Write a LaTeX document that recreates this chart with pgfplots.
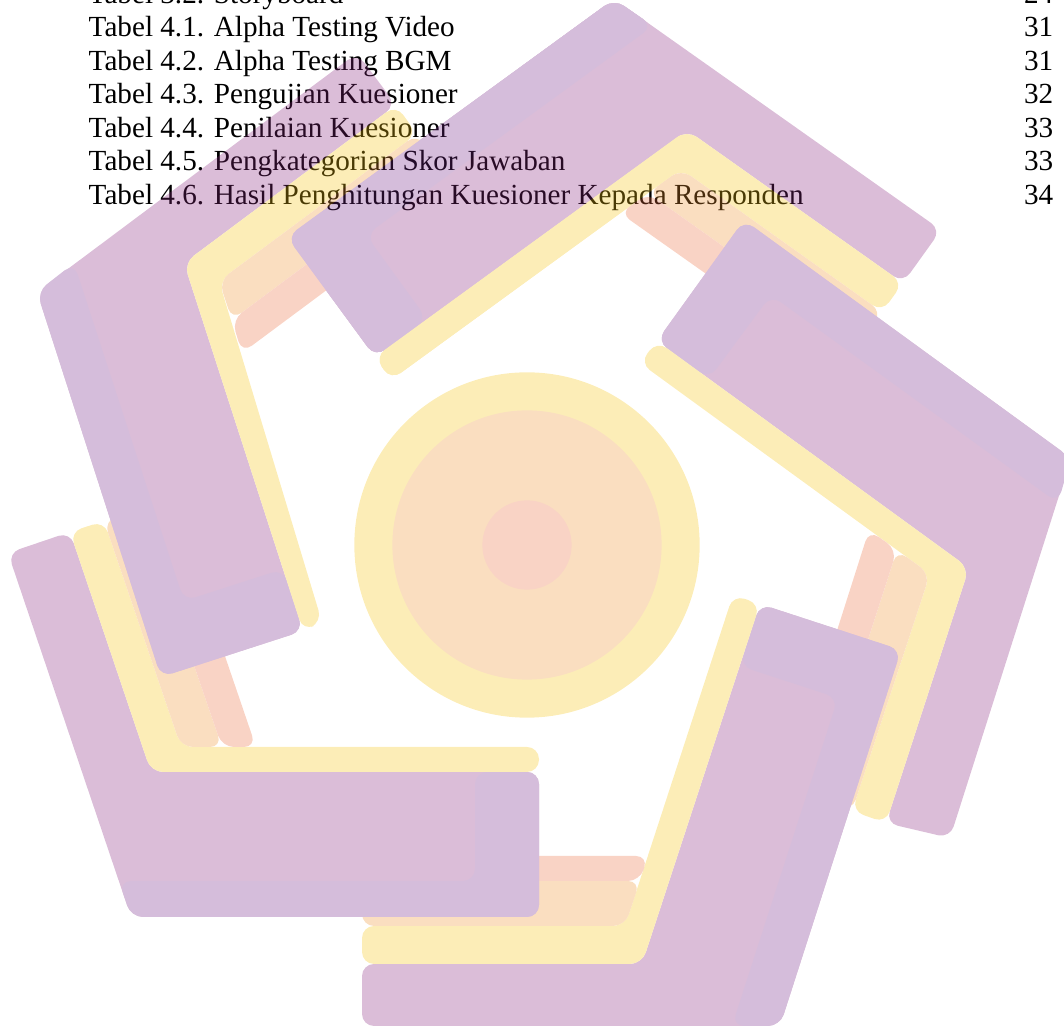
\documentclass[border=0pt]{standalone}
\usepackage{fontspec}
\setmainfont{Liberation Serif}
\usepackage{pgfplots}
\pgfplotsset{compat=1.18}
\definecolor{cpur}{RGB}{135,38,125}
\definecolor{clav}{RGB}{115,38,135}
\definecolor{cyel}{RGB}{245,195,18}
\definecolor{cpea}{RGB}{238,145,45}
\definecolor{cpin}{RGB}{235,108,62}
\pgfplotsset{
  page/.style={width=106.4mm, height=103.4mm, scale only axis,
    xmin=0, xmax=1064, ymin=0, ymax=1034, y dir=reverse, hide axis, clip=true},
  sh/.style={draw=none, fill=#1, rounded corners=1.2mm, forget plot},
  disc/.style={#1, only marks, mark=*, mark options={draw=#1, fill=#1}, forget plot},
}
\tikzset{
  tl/.style={anchor=base west, inner sep=0pt, font=\fontsize{8.3}{10}\selectfont},
  tr/.style={anchor=base east, inner sep=0pt, font=\fontsize{8.3}{10}\selectfont},
}
\begin{document}
\begin{tikzpicture}
% ---------------- text layer ----------------
\begin{axis}[page]
\addplot[draw=none, forget plot] coordinates {(0,0) (1064,1034)};
\node[tl] at (axis cs:88,4)   {Tabel 3.2. Storyboard};
\node[tl] at (axis cs:88,37)  {Tabel 4.1. Alpha Testing Video};
\node[tl] at (axis cs:88,71)  {Tabel 4.2. Alpha Testing BGM};
\node[tl] at (axis cs:88,104) {Tabel 4.3. Pengujian Kuesioner};
\node[tl] at (axis cs:88,138) {Tabel 4.4. Penilaian Kuesioner};
\node[tl] at (axis cs:88,171) {Tabel 4.5. Pengkategorian Skor Jawaban};
\node[tl] at (axis cs:88,205) {Tabel 4.6. Hasil Penghitungan Kuesioner Kepada Responden};
\node[tr] at (axis cs:1054,4)   {24};
\node[tr] at (axis cs:1054,37)  {31};
\node[tr] at (axis cs:1054,71)  {31};
\node[tr] at (axis cs:1054,104) {32};
\node[tr] at (axis cs:1054,138) {33};
\node[tr] at (axis cs:1054,171) {33};
\node[tr] at (axis cs:1054,205) {34};
\end{axis}
% ---------------- watermark layer ----------------
\begin{scope}[transparency group, opacity=0.3]
\begin{axis}[page]
% centre circle
\addplot[disc=cyel, mark size=48.93pt] coordinates {(527,545)};
\addplot[disc=cpea, mark size=38.1pt] coordinates {(527,545)};
\addplot[disc=cpin, mark size=12.5pt] coordinates {(527,545)};
% piece A (top)
\addplot[sh=cpur] coordinates {(941,230) (903,283) (687,130) (375,357) (287,237) (614,-1)} -- cycle;
\addplot[sh=clav] coordinates {(653,26) (366,235) (427,319) (375,357) (287,237) (614,-1)} -- cycle;
\addplot[sh=cyel] coordinates {(903,283) (882,312) (681,169) (391,380) (375,357) (687,130)} -- cycle;
\addplot[sh=cpea] coordinates {(882,312) (861,344) (648,193) (681,169)} -- cycle;
\addplot[sh=cpin] coordinates {(861,344) (842,370) (620,213) (648,193)} -- cycle;
% piece D (right)
\addplot[sh=cpur] coordinates {(950,838) (886,823) (969,568) (657,341) (744,220) (1071,458)} -- cycle;
\addplot[sh=clav] coordinates {(1058,503) (771,295) (709,379) (657,341) (744,220) (1071,458)} -- cycle;
\addplot[sh=cyel] coordinates {(886,823) (852,811) (930,574) (640,363) (657,341) (969,568)} -- cycle;
\addplot[sh=cpea] coordinates {(852,811) (816,801) (897,550) (930,574)} -- cycle;
\addplot[sh=cpin] coordinates {(816,801) (786,791) (869,530) (897,550)} -- cycle;
% piece C (bottom)
\addplot[sh=cpur] coordinates {(362,1026) (362,964) (642,964) (760,604) (901,650) (780,1026)} -- cycle;
\addplot[sh=clav] coordinates {(732,1026) (838,698) (740,666) (760,604) (901,650) (780,1026)} -- cycle;
\addplot[sh=cyel] coordinates {(362,964) (362,926) (625,926) (733,595) (760,604) (642,964)} -- cycle;
\addplot[sh=cpea] coordinates {(362,926) (362,881) (640,881) (625,926)} -- cycle;
\addplot[sh=cpin] coordinates {(362,881) (362,856) (648,856) (640,881)} -- cycle;
% piece B (bottom left)
\addplot[sh=cpur] coordinates {(8,553) (70,532) (151,772) (539,772) (539,917) (131,917)} -- cycle;
\addplot[sh=clav] coordinates {(119,881) (475,881) (475,772) (539,772) (539,917) (131,917)} -- cycle;
\addplot[sh=cyel] coordinates {(70,532) (104,521) (181,747) (539,747) (539,772) (151,772)} -- cycle;
\addplot[sh=cpea] coordinates {(104,521) (140,508) (222,747) (181,747)} -- cycle;
\addplot[sh=cpin] coordinates {(140,508) (171,498) (256,747) (222,747)} -- cycle;
% piece E (left)
\addplot[sh=cpur] coordinates {(357,53) (396,105) (184,263) (303,631) (161,677) (37,292)} -- cycle;
\addplot[sh=clav] coordinates {(74,263) (184,601) (283,569) (303,631) (161,677) (37,292)} -- cycle;
\addplot[sh=cyel] coordinates {(396,105) (417,134) (219,281) (322,622) (303,631) (184,263)} -- cycle;
\addplot[sh=cpea] coordinates {(417,134) (441,164) (232,320) (219,281)} -- cycle;
\addplot[sh=cpin] coordinates {(441,164) (460,191) (242,353) (232,320)} -- cycle;
% piece A, short leg again (lies over E)
\addplot[sh=cpur] coordinates {(653,26) (687,130) (375,357) (287,237) (614,-1)} -- cycle;
\addplot[sh=clav] coordinates {(653,26) (366,235) (427,319) (375,357) (287,237) (614,-1)} -- cycle;
\addplot[sh=cyel] coordinates {(681,169) (391,380) (375,357) (687,130)} -- cycle;
\end{axis}
\end{scope}
\pgfresetboundingbox
\path[use as bounding box] (0,0) rectangle (106.4mm,103.4mm);
\end{tikzpicture}
\end{document}
